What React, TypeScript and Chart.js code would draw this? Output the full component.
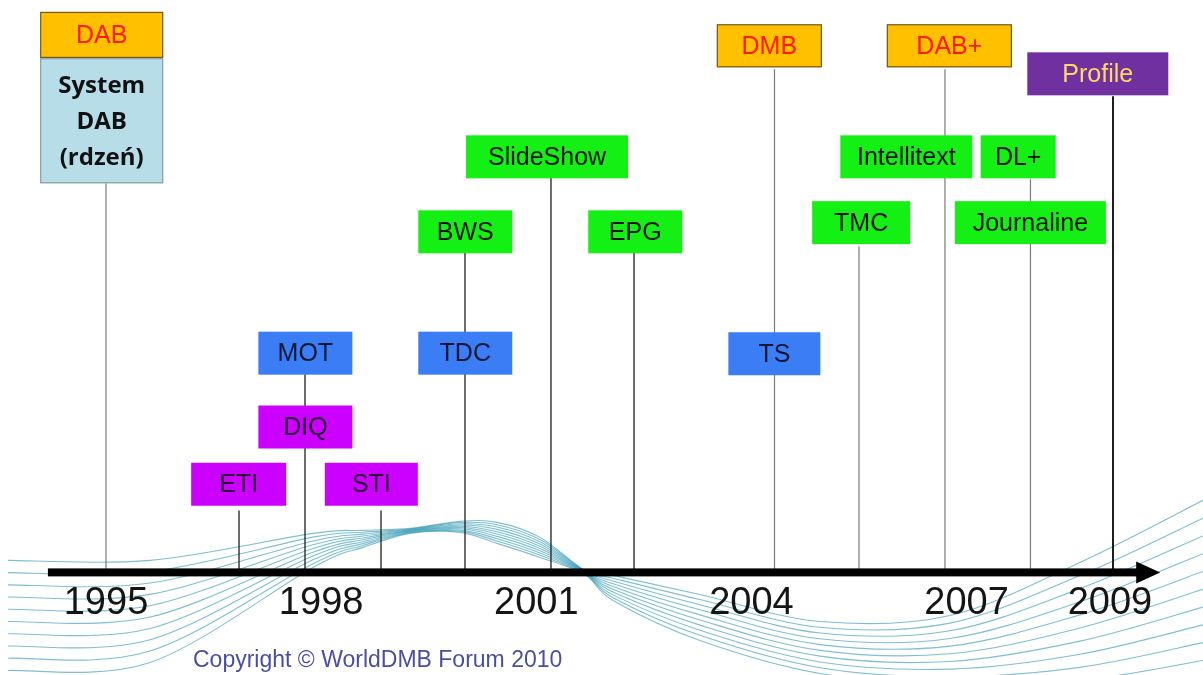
import { useEffect, useRef } from 'react';
import { Chart, registerables } from 'chart.js';

Chart.register(...registerables);

// ---------------- data ----------------
const TICK_YEARS = [1995, 1998, 2001, 2004, 2007, 2009];

const BOX_LABELS = ['DAB', 'System\nDAB\n(rdzeń)', 'ETI', 'DIQ', 'MOT', 'STI', 'TDC', 'BWS', 'SlideShow', 'EPG', 'DMB', 'TS', 'TMC', 'Intellitext', 'DAB+', 'DL+', 'Journaline', 'Profile'];
const BOX_YEARS = [1994.94, 1994.94, 1996.85, 1997.78, 1997.78, 1998.70, 2000.01, 2000.01, 2001.15, 2002.38, 2004.25, 2004.32, 2005.53, 2006.16, 2006.76, 2007.72, 2007.89, 2008.83];
const BOX_LEVELS = [93.9, 78.9, 15.4, 25.4, 38.3, 15.4, 38.3, 59.5, 72.6, 59.5, 92.0, 38.2, 61.1, 72.6, 92.0, 72.6, 61.1, 87.1];
const BOX_KINDS = ['standard', 'core', 'interface', 'interface', 'transport', 'interface', 'transport', 'application', 'application', 'application', 'standard', 'transport', 'application', 'application', 'standard', 'application', 'application', 'profile'];

const LINE_YEARS = [1995.0, 1996.855, 1997.775, 1998.835, 2000.006, 2001.205, 2002.363, 2004.322, 2005.5, 2006.699, 2007.891, 2009.042];
const LINE_TOPS = [68.0, 10.8, 34.6, 10.8, 55.8, 68.9, 55.8, 87.9, 57.0, 87.9, 68.7, 83.2];

const ARROW_FROM = 1994.19;
const ARROW_TO = 2009.70;
const X_MIN = 1993.522;
const X_MAX = 2010.297;

// decorative wave (background ribbon), in axis units
const WAVE_X = [1993.633, 1995.614, 1997.886, 1998.584, 1999.239, 1999.936, 2000.452, 2001.052, 2001.679, 2002.070, 2003.283, 2004.956, 2006.769, 2008.582, 2010.297];
const WAVE_TOP = [2.10, 2.10, 6.82, 7.34, 7.69, 8.92, 8.74, 6.12, 0.35, -0.52, -3.85, -8.57, -7.52, 1.75, 12.59];
const WAVE_BOTTOM = [-17.13, -15.73, 0.87, 4.37, 6.82, 6.99, 5.07, 2.62, -0.35, -4.90, -11.89, -17.66, -19.58, -18.88, -15.38];

const COPYRIGHT = 'Copyright © WorldDMB Forum 2010';

// ---------------- styles ----------------
const LINE_TONES = ['grey', 'dark', 'dark', 'dark', 'dark', 'dark', 'dark', 'grey', 'grey', 'grey', 'grey', 'black'];

const BOX_WIDTH: Record<string, number> = {
  'DAB': 123, 'System\nDAB\n(rdzeń)': 123, 'ETI': 95, 'DIQ': 94, 'MOT': 94, 'STI': 93, 'TDC': 94, 'BWS': 94,
  'SlideShow': 162, 'EPG': 94, 'DMB': 105, 'TS': 92, 'TMC': 98, 'Intellitext': 132, 'DAB+': 125,
  'DL+': 75, 'Journaline': 151, 'Profile': 141,
};
const BOX_HEIGHT: Record<string, number> = { 'DAB': 46, 'System\nDAB\n(rdzeń)': 125 };

const KIND_STYLE: Record<string, { fill: string; stroke?: string; text: string; font: string }> = {
  standard: { fill: '#ffc000', stroke: '#6e5b2b', text: '#ff1a00', font: "25px 'Liberation Sans', Arial, sans-serif" },
  core: { fill: '#b7dee8', stroke: '#8d9ea2', text: '#111111', font: "bold 24px 'Open Sans', sans-serif" },
  interface: { fill: '#cc00ff', text: '#2a0033', font: "25px 'Liberation Sans', Arial, sans-serif" },
  transport: { fill: '#3b7df4', text: '#0d1733', font: "25px 'Liberation Sans', Arial, sans-serif" },
  application: { fill: '#14f014', text: '#141414', font: "25px 'Liberation Sans', Arial, sans-serif" },
  profile: { fill: '#7030a0', text: '#ffd966', font: "25px 'Liberation Sans', Arial, sans-serif" },
};

function smoothPath(ctx: CanvasRenderingContext2D, pts: { x: number; y: number }[]) {
  ctx.moveTo(pts[0].x, pts[0].y);
  for (let i = 0; i < pts.length - 1; i++) {
    const p0 = pts[i - 1] || pts[i];
    const p1 = pts[i];
    const p2 = pts[i + 1];
    const p3 = pts[i + 2] || p2;
    ctx.bezierCurveTo(
      p1.x + (p2.x - p0.x) / 6, p1.y + (p2.y - p0.y) / 6,
      p2.x - (p3.x - p1.x) / 6, p2.y - (p3.y - p1.y) / 6,
      p2.x, p2.y,
    );
  }
}

const wavePlugin = {
  id: 'wave',
  beforeDraw(chart: any) {
    const { ctx } = chart;
    const xs = chart.scales.x;
    const ys = chart.scales.y;
    const strands = 10;
    ctx.save();
    ctx.lineWidth = 1.1;
    ctx.strokeStyle = 'rgba(35,145,172,0.58)';
    for (let s = 0; s < strands; s++) {
      const t = s / (strands - 1);
      const pts = WAVE_X.map((xv, i) => ({
        x: xs.getPixelForValue(xv),
        y: ys.getPixelForValue(WAVE_TOP[i] + t * (WAVE_BOTTOM[i] - WAVE_TOP[i])),
      }));
      ctx.beginPath();
      smoothPath(ctx, pts);
      ctx.stroke();
    }
    ctx.restore();
  },
};

const overlayPlugin = {
  id: 'overlay',
  afterDatasetsDraw(chart: any) {
    const { ctx } = chart;
    const xs = chart.scales.x;
    const ys = chart.scales.y;
    ctx.save();
    // axis arrow
    const x0 = xs.getPixelForValue(ARROW_FROM);
    const x1 = xs.getPixelForValue(ARROW_TO);
    const y0 = ys.getPixelForValue(0);
    ctx.fillStyle = '#000';
    ctx.fillRect(x0, y0 - 4, x1 - 22 - x0, 8);
    ctx.beginPath();
    ctx.moveTo(x1 - 24, y0 - 11);
    ctx.lineTo(x1, y0);
    ctx.lineTo(x1 - 24, y0 + 11);
    ctx.closePath();
    ctx.fill();

    // boxes
    BOX_LABELS.forEach((label, i) => {
      const st = KIND_STYLE[BOX_KINDS[i]];
      const w = BOX_WIDTH[label] ?? 94;
      const h = BOX_HEIGHT[label] ?? 43;
      const cx = xs.getPixelForValue(BOX_YEARS[i]);
      const cy = ys.getPixelForValue(BOX_LEVELS[i]);
      ctx.fillStyle = st.fill;
      ctx.fillRect(cx - w / 2, cy - h / 2, w, h);
      if (st.stroke) {
        ctx.strokeStyle = st.stroke;
        ctx.lineWidth = 1.2;
        ctx.strokeRect(cx - w / 2 + 0.5, cy - h / 2 + 0.5, w - 1, h - 1);
      }
      ctx.fillStyle = st.text;
      ctx.font = st.font;
      ctx.textAlign = 'center';
      ctx.textBaseline = 'middle';
      const lines = label.split('\n');
      const lh = 36;
      lines.forEach((ln, k) => {
        ctx.fillText(ln, cx, cy + 1 + (k - (lines.length - 1) / 2) * lh);
      });
    });

    // copyright
    ctx.fillStyle = '#4b4f9c';
    ctx.font = "23px 'Liberation Sans', Arial, sans-serif";
    ctx.textAlign = 'left';
    ctx.textBaseline = 'middle';
    ctx.fillText(COPYRIGHT, 193, chart.height - 14);
    ctx.restore();
  },
};

export default function App() {
  const ref = useRef<HTMLCanvasElement>(null);
  useEffect(() => {
    const canvas = ref.current!;
    const chart = new Chart(canvas, {
      type: 'scatter',
      data: {
        datasets: LINE_YEARS.map((yr, i) => ({
          data: [{ x: yr, y: LINE_TOPS[i] }, { x: yr, y: 0 }],
          showLine: true,
          borderColor: LINE_TONES[i] === 'grey' ? '#7a7a7a' : '#1e1e1e',
          borderWidth: LINE_TONES[i] === 'black' ? 2 : LINE_TONES[i] === 'dark' ? 1.3 : 1.2,
          pointRadius: 0,
          pointHoverRadius: 0,
        })),
      },
      options: {
        animation: false,
        responsive: false,
        events: [],
        layout: { padding: { left: 0, right: 0, top: 0, bottom: 41 } },
        plugins: { legend: { display: false }, tooltip: { enabled: false }, title: { display: false } },
        scales: {
          x: {
            type: 'linear',
            min: X_MIN,
            max: X_MAX,
            grid: { display: false, drawTicks: false },
            border: { display: false },
            afterBuildTicks: (s: any) => { s.ticks = TICK_YEARS.map((v) => ({ value: v })); },
            ticks: {
              autoSkip: false,
              maxRotation: 0,
              padding: 8,
              color: '#151515',
              font: { family: "'Liberation Sans', Arial, sans-serif", size: 38 },
              callback: (v: any) => String(v),
            },
          },
          y: { type: 'linear', min: 0, max: 100, display: false },
        },
      },
      plugins: [wavePlugin, overlayPlugin],
    });
    return () => chart.destroy();
  }, []);
  return (
    <div style={{ position: 'fixed', left: 0, top: 0, width: 1203, height: 675, background: '#fff' }}>
      <canvas ref={ref} width={1203} height={675} style={{ display: 'block' }} />
    </div>
  );
}
